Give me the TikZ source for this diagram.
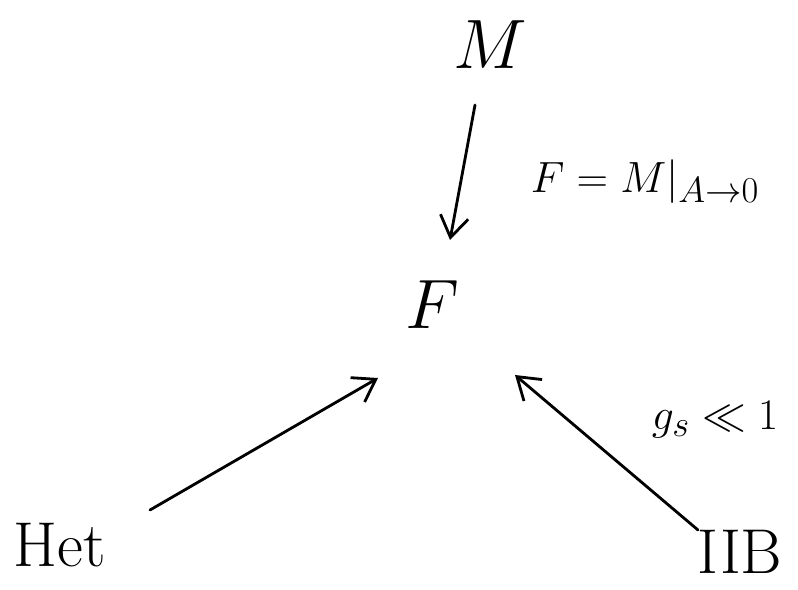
\documentclass[tikz,border=0pt]{standalone}
\usetikzlibrary{arrows.meta}
\begin{document}
\begin{tikzpicture}[x=0.02cm,y=-0.02cm,
  lbl/.style={font=\Huge, scale=1.45, inner sep=0pt},
  big/.style={font=\Huge, scale=1.6, inner sep=0pt},
  side/.style={font=\Huge, inner sep=0pt},
  arr/.style={line width=1.6pt, -{Straight Barb[length=12pt,width=16pt]}, line cap=round}]
\useasboundingbox (0,0) rectangle (798,589);
\node[big] (M) at (490,45) {$M$};
\node[big] (F) at (432,305) {$F$};
\node[lbl] (Het) at (60,545) {Het};
\node[lbl] (IIB) at (740,552) {IIB};
\node[side] (l1) at (645,182) {$F = M|_{A\to 0}$};
\node[side] (l2) at (715,420) {$g_s \ll 1$};
\coordinate (m0) at ([shift={(-15,60)}]M.center);
\coordinate (f0) at ([shift={(18,-65)}]F.center);
\coordinate (h0) at ([shift={(90,-35)}]Het.center);
\coordinate (f1) at ([shift={(-54,73)}]F.center);
\coordinate (i0) at ([shift={(-42,-22)}]IIB.center);
\coordinate (f2) at ([shift={(83,70)}]F.center);
\draw[arr] (m0) -- (f0);
\draw[arr] (h0) -- (f1);
\draw[arr] (i0) -- (f2);
\end{tikzpicture}
\end{document}
